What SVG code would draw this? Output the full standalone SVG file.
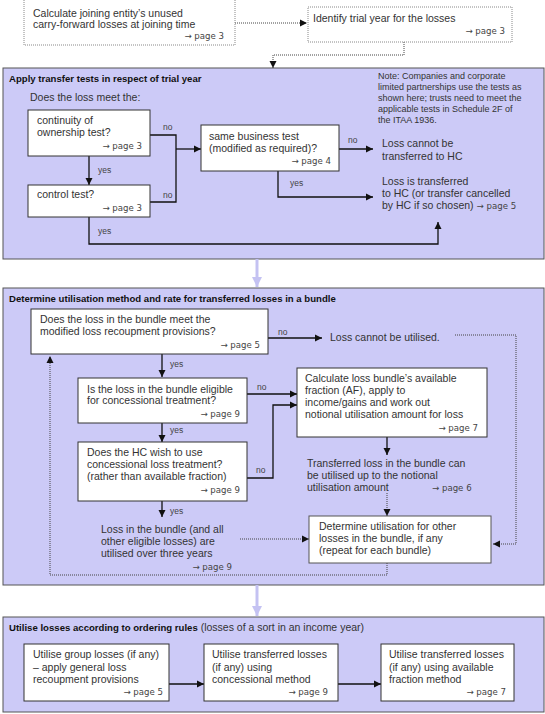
<svg xmlns="http://www.w3.org/2000/svg" width="545" height="714" viewBox="0 0 545 714">
<style>
text{font-family:"Liberation Sans",Arial,sans-serif;fill:#333;}
.t{font-size:10.5px;}
.s{font-size:9px;}
.p{font-family:"DejaVu Sans",sans-serif;font-size:8.6px;fill:#444;}
.h{font-size:9.6px;font-weight:bold;fill:#111;}
.lbl{font-size:8.5px;fill:#444;}
.sec{fill:#cccaf7;stroke:#555;stroke-width:1;}
.box{fill:#fff;stroke:#333;stroke-width:1;}
.dbox{fill:#fff;stroke:#888;stroke-width:1;stroke-dasharray:1,1;}
.ln{fill:none;stroke:#111;stroke-width:1.3;}
.dl{fill:none;stroke:#444;stroke-width:1;stroke-dasharray:1,1;}
.big{fill:none;stroke:#c4c2f2;stroke-width:3;}
</style>
<defs>
<marker id="a" markerWidth="8" markerHeight="8" refX="7" refY="4" orient="auto" markerUnits="userSpaceOnUse"><path d="M0,0.5 L7,4 L0,7.5 Z" fill="#111"/></marker>
<marker id="b" markerWidth="12" markerHeight="12" refX="10" refY="6" orient="auto" markerUnits="userSpaceOnUse"><path d="M0,1 L10,6 L0,11 Z" fill="#c4c2f2"/></marker>
</defs>

<g id="section1"><rect class="sec" x="3" y="68" width="541" height="191"/>
<text class="h" x="9" y="82">Apply transfer tests in respect of trial year</text>
<text class="t" x="30" y="101">Does the loss meet the:</text>
<text class="s" x="378" y="79">Note: Companies and corporate</text>
<text class="s" x="378" y="90">limited partnerships use the tests as</text>
<text class="s" x="378" y="101">shown here; trusts need to meet the</text>
<text class="s" x="378" y="112">applicable tests in Schedule 2F of</text>
<text class="s" x="378" y="123">the ITAA 1936.</text>
</g>
<g id="section2"><rect class="sec" x="3" y="288" width="541" height="297"/>
<text class="h" x="9" y="302">Determine utilisation method and rate for transferred losses in a bundle</text>
</g>
<g id="section3"><rect class="sec" x="3" y="617" width="541" height="95"/>
<text x="9" y="631"><tspan class="h">Utilise losses according to ordering rules</tspan><tspan class="t"> (losses of a sort in an income year)</tspan></text>
</g>

<g id="connectors">
<path class="dl" d="M235,23 H307" marker-end="url(#a)"/>
<path class="dl" d="M404,42 V55 H273 V68" marker-end="url(#a)"/>
<path class="ln" d="M89,156 V185" marker-end="url(#a)"/>
<path class="ln" d="M150,135 H176 V202 H150"/>
<path class="ln" d="M176,149 H201" marker-end="url(#a)"/>
<path class="ln" d="M339,149 H373" marker-end="url(#a)"/>
<path class="ln" d="M278,171 V197 H373" marker-end="url(#a)"/>
<path class="ln" d="M89,217 V244 H438 V222" marker-end="url(#a)"/>
<path class="big" d="M257,259 V287" marker-end="url(#b)"/>
<path class="ln" d="M268,338 H322" marker-end="url(#a)"/>
<path class="dl" d="M455,335 H516 V544 H493" marker-end="url(#a)"/>
<path class="ln" d="M162,354 V377" marker-end="url(#a)"/>
<path class="ln" d="M247,394 H297" marker-end="url(#a)"/>
<path class="ln" d="M162,423 V442" marker-end="url(#a)"/>
<path class="ln" d="M247,478 H273 V405 H297" marker-end="url(#a)"/>
<path class="ln" d="M162,501 V517" marker-end="url(#a)"/>
<path class="ln" d="M387,437 V455" marker-end="url(#a)"/>
<path class="dl" d="M387,493 V516" marker-end="url(#a)"/>
<path class="dl" d="M240,539 H309" marker-end="url(#a)"/>
<path class="dl" d="M387,563 V575 H50 V356" marker-end="url(#a)"/>
<path class="big" d="M257,585 V616" marker-end="url(#b)"/>
<path class="ln" d="M169,684 H204" marker-end="url(#a)"/>
<path class="ln" d="M338,684 H381" marker-end="url(#a)"/>
<text class="lbl" x="163" y="130">no</text>
<text class="lbl" x="163" y="198">no</text>
<text class="lbl" x="98" y="173">yes</text>
<text class="lbl" x="98" y="234">yes</text>
<text class="lbl" x="348" y="143">no</text>
<text class="lbl" x="290" y="186">yes</text>
<text class="lbl" x="278" y="335">no</text>
<text class="lbl" x="170" y="367">yes</text>
<text class="lbl" x="257" y="390">no</text>
<text class="lbl" x="170" y="433">yes</text>
<text class="lbl" x="256" y="473">no</text>
<text class="lbl" x="170" y="514">yes</text>
</g>

<g id="n1"><rect class="dbox" x="24" y="-1" width="211" height="46"/>
<text class="t" x="33" y="17">Calculate joining entity’s unused</text>
<text class="t" x="33" y="28">carry-forward losses at joining time</text>
<text class="p" x="224" y="39" text-anchor="end">→ page 3</text></g>
<g id="n2"><rect class="dbox" x="308" y="7" width="204" height="35"/>
<text class="t" x="313" y="22">Identify trial year for the losses</text>
<text class="p" x="505" y="34" text-anchor="end">→ page 3</text></g>

<g id="n3"><rect class="box" x="28" y="110" width="122" height="46"/>
<text class="t" x="37" y="124">continuity of</text>
<text class="t" x="37" y="136">ownership test?</text>
<text class="p" x="142" y="149" text-anchor="end">→ page 3</text></g>
<g id="n4"><rect class="box" x="28" y="185" width="122" height="32"/>
<text class="t" x="37" y="198">control test?</text>
<text class="p" x="142" y="211" text-anchor="end">→ page 3</text></g>
<g id="n5"><rect class="box" x="201" y="125" width="138" height="46"/>
<text class="t" x="209" y="140">same business test</text>
<text class="t" x="209" y="152">(modified as required)?</text>
<text class="p" x="331" y="164" text-anchor="end">→ page 4</text></g>
<g id="n6"><text class="t" x="382" y="147">Loss cannot be</text>
<text class="t" x="382" y="160">transferred to HC</text></g>
<g id="n7"><text class="t" x="382" y="185">Loss is transferred</text>
<text class="t" x="382" y="197">to HC (or transfer cancelled</text>
<text class="t" x="382" y="209">by HC if so chosen) <tspan class="p">→ page 5</tspan></text></g>

<g id="n8"><rect class="box" x="31" y="309" width="237" height="45"/>
<text class="t" x="40" y="323">Does the loss in the bundle meet the</text>
<text class="t" x="40" y="335">modified loss recoupment provisions?</text>
<text class="p" x="260" y="348" text-anchor="end">→ page 5</text></g>
<g id="n9"><text class="t" x="330" y="341">Loss cannot be utilised.</text></g>
<g id="n10"><rect class="box" x="78" y="378" width="169" height="45"/>
<text class="t" x="87" y="393">Is the loss in the bundle eligible</text>
<text class="t" x="87" y="404">for concessional treatment?</text>
<text class="p" x="240" y="417" text-anchor="end">→ page 9</text></g>
<g id="n11"><rect class="box" x="297" y="368" width="190" height="69"/>
<text class="t" x="305" y="382">Calculate loss bundle’s available</text>
<text class="t" x="305" y="394">fraction (AF), apply to</text>
<text class="t" x="305" y="406">income/gains and work out</text>
<text class="t" x="305" y="418">notional utilisation amount for loss</text>
<text class="p" x="478" y="431" text-anchor="end">→ page 7</text></g>
<g id="n12"><rect class="box" x="78" y="442" width="169" height="59"/>
<text class="t" x="87" y="456">Does the HC wish to use</text>
<text class="t" x="87" y="468">concessional loss treatment?</text>
<text class="t" x="87" y="480">(rather than available fraction)</text>
<text class="p" x="240" y="493" text-anchor="end">→ page 9</text></g>
<g id="n13"><text class="t" x="307" y="467">Transferred loss in the bundle can</text>
<text class="t" x="307" y="479">be utilised up to the notional</text>
<text class="t" x="307" y="491">utilisation amount</text>
<text class="p" x="432" y="491">→ page 6</text></g>
<g id="n14"><text class="t" x="101" y="533">Loss in the bundle (and all</text>
<text class="t" x="101" y="545">other eligible losses) are</text>
<text class="t" x="101" y="557">utilised over three years</text>
<text class="p" x="232" y="570" text-anchor="end">→ page 9</text></g>
<g id="n15"><rect class="box" x="309" y="516" width="182" height="47" style="stroke:#555"/>
<text class="t" x="319" y="530">Determine utilisation for other</text>
<text class="t" x="319" y="542">losses in the bundle, if any</text>
<text class="t" x="319" y="554">(repeat for each bundle)</text></g>

<g id="n16"><rect class="box" x="24" y="644" width="145" height="57"/>
<text class="t" x="33" y="658">Utilise group losses (if any)</text>
<text class="t" x="33" y="671">– apply general loss</text>
<text class="t" x="33" y="683">recoupment provisions</text>
<text class="p" x="163" y="695" text-anchor="end">→ page 5</text></g>
<g id="n17"><rect class="box" x="204" y="644" width="134" height="57"/>
<text class="t" x="212" y="658">Utilise transferred losses</text>
<text class="t" x="212" y="671">(if any) using</text>
<text class="t" x="212" y="683">concessional method</text>
<text class="p" x="328" y="695" text-anchor="end">→ page 9</text></g>
<g id="n18"><rect class="box" x="381" y="644" width="133" height="57"/>
<text class="t" x="389" y="658">Utilise transferred losses</text>
<text class="t" x="389" y="671">(if any) using available</text>
<text class="t" x="389" y="683">fraction method</text>
<text class="p" x="506" y="695" text-anchor="end">→ page 7</text></g>
</svg>
